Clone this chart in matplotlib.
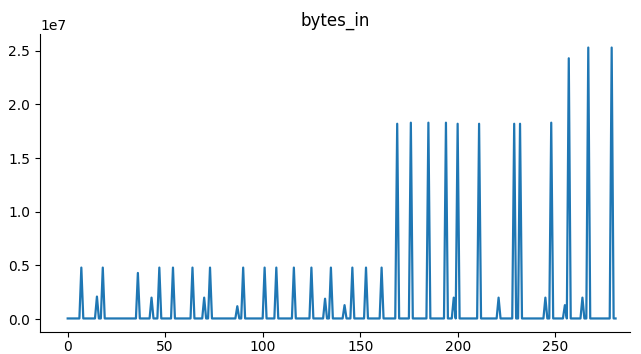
import numpy as np
import matplotlib.pyplot as plt

# spikes: sample index and bytes_in value
spike_idx = [7, 15, 18, 36, 43, 47, 54, 64, 70, 73, 87, 90, 101, 107, 116, 125,
             132, 135, 142, 146, 153, 161, 169, 176, 185, 194, 198, 200, 211, 221,
             229, 232, 245, 248, 255, 257, 264, 267, 279]
spike_val = [4.8e6, 2.1e6, 4.8e6, 4.3e6, 2.0e6, 4.8e6, 4.8e6, 4.8e6, 2.0e6, 4.8e6,
             1.2e6, 4.8e6, 4.8e6, 4.8e6, 4.8e6, 4.8e6, 1.9e6, 4.8e6, 1.3e6, 4.8e6,
             4.8e6, 4.8e6, 1.82e7, 1.83e7, 1.83e7, 1.83e7, 2.0e6, 1.82e7, 1.82e7, 2.0e6,
             1.82e7, 1.82e7, 2.0e6, 1.83e7, 1.3e6, 2.43e7, 2.0e6, 2.53e7, 2.53e7]
n_samples = 282
baseline = 60000

bytes_in = np.full(n_samples, baseline, dtype=float)
bytes_in[spike_idx] = spike_val

fig = plt.figure(figsize=(6.41, 3.54), dpi=100)
ax = fig.add_axes([40 / 641, 22 / 354, 590 / 641, 298 / 354])
ax.plot(np.arange(n_samples), bytes_in, color='#1f77b4', linewidth=1.6)
ax.set_xlim(-14.2, 288.4)
ax.set_xticks([0, 50, 100, 150, 200, 250])
ax.set_yticks([0, 0.5e7, 1.0e7, 1.5e7, 2.0e7, 2.5e7])
ax.tick_params(axis='x', pad=2)
ax.spines['top'].set_visible(False)
ax.spines['right'].set_visible(False)
ax.set_title("bytes_in")
fig.savefig("out.png", dpi=100)
